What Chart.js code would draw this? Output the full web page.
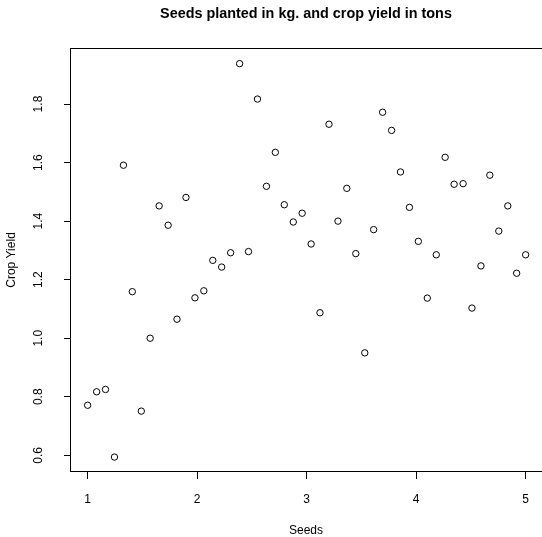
<!DOCTYPE html>
<html><head><meta charset="utf-8">
<script src="https://cdn.jsdelivr.net/npm/chart.js@4.4.1/dist/chart.umd.min.js"></script>
<style>html,body{margin:0;padding:0;background:#fff;overflow:hidden;width:542px;height:537px}canvas{display:block}</style>
</head><body>
<canvas id="c" width="542" height="537"></canvas>
<script>
const titleText = "Seeds planted in kg. and crop yield in tons";
const xLabel = "Seeds";
const yLabel = "Crop Yield";

const seeds = [1.000, 1.082, 1.163, 1.245, 1.327, 1.408, 1.490, 1.571, 1.653, 1.735,
               1.816, 1.898, 1.980, 2.061, 2.143, 2.224, 2.306, 2.388, 2.469, 2.551,
               2.633, 2.714, 2.796, 2.878, 2.959, 3.041, 3.122, 3.204, 3.286, 3.367,
               3.449, 3.531, 3.612, 3.694, 3.776, 3.857, 3.939, 4.020, 4.102, 4.184,
               4.265, 4.347, 4.429, 4.510, 4.592, 4.673, 4.755, 4.837, 4.918, 5.000];
const cropYield = [0.771, 0.817, 0.825, 0.594, 1.591, 1.159, 0.751, 1.000, 1.452, 1.386,
                   1.065, 1.481, 1.138, 1.162, 1.266, 1.243, 1.292, 1.938, 1.296, 1.817,
                   1.519, 1.635, 1.456, 1.397, 1.427, 1.322, 1.087, 1.731, 1.400, 1.512,
                   1.289, 0.950, 1.371, 1.772, 1.710, 1.568, 1.447, 1.331, 1.137, 1.285,
                   1.618, 1.526, 1.528, 1.103, 1.247, 1.557, 1.366, 1.452, 1.222, 1.285];

const xTicks = [1, 2, 3, 4, 5];
const xTickLabels = ["1", "2", "3", "4", "5"];
const yTicks = [0.6, 0.8, 1.0, 1.2, 1.4, 1.6, 1.8];
const yTickLabels = ["0.6", "0.8", "1.0", "1.2", "1.4", "1.6", "1.8"];
// visible window of the x axis (the plot box continues past the right edge of the image)
const xLimits = [0.848, 5.140];
const yLimits = [0.543, 1.9915];

const FONT = "'Liberation Sans', Arial, Helvetica, sans-serif";

const boxPlugin = {
  id: 'box',
  afterDraw(chart) {
    const a = chart.chartArea, ctx = chart.ctx;
    ctx.save();
    ctx.strokeStyle = '#000';
    ctx.lineWidth = 1;
    ctx.strokeRect(Math.round(a.left) - 0.5, Math.round(a.top) + 0.5,
                   Math.round(a.right) - Math.round(a.left) + 4, Math.round(a.bottom) - Math.round(a.top) - 1);
    ctx.restore();
  }
};

new Chart(document.getElementById('c'), {
  type: 'scatter',
  data: {
    datasets: [{
      data: seeds.map((s, i) => ({x: s, y: cropYield[i]})),
      pointStyle: 'circle',
      pointRadius: 3.2,
      pointBorderWidth: 1,
      pointBorderColor: '#000',
      pointBackgroundColor: 'rgba(0,0,0,0)',
      showLine: false
    }]
  },
  options: {
    responsive: false,
    animation: false,
    devicePixelRatio: 1,
    layout: {autoPadding: false, padding: {left: 0, right: 0, top: 0, bottom: 0}},
    plugins: {
      legend: {display: false},
      tooltip: {enabled: false},
      title: {
        display: true,
        text: titleText,
        fullSize: false,
        color: '#000',
        font: {family: FONT, size: 14.4, weight: 'bold', lineHeight: 1.2},
        padding: {top: 5.4, bottom: 25.3}
      }
    },
    scales: {
      x: {
        type: 'linear',
        min: xLimits[0], max: xLimits[1],
        afterFit(s) { s.height = 65; },
        afterBuildTicks(s) { s.ticks = xTicks.map(v => ({value: v})); },
        ticks: {
          color: '#000',
          font: {family: FONT, size: 12, lineHeight: 1.2},
          padding: 13,
          maxRotation: 0,
          autoSkip: false,
          callback: (v, i) => xTickLabels[i]
        },
        grid: {display: true, drawOnChartArea: false, drawTicks: true, tickLength: 7, color: '#000', lineWidth: 1},
        border: {display: false},
        title: {
          display: true, text: xLabel, color: '#000',
          font: {family: FONT, size: 12, lineHeight: 1},
          padding: {top: 0, bottom: 0}
        }
      },
      y: {
        type: 'linear',
        min: yLimits[0], max: yLimits[1],
        afterFit(s) { s.width = 71; },
        afterBuildTicks(s) { s.ticks = yTicks.map(v => ({value: v})); },
        ticks: {
          color: '#000',
          font: {family: FONT, size: 12, lineHeight: 1.2},
          padding: 16.6,
          minRotation: 90, maxRotation: 90,
          crossAlign: 'center',
          autoSkip: false,
          callback: (v, i) => yTickLabels[i]
        },
        grid: {display: true, drawOnChartArea: false, drawTicks: true, tickLength: 7, color: '#000', lineWidth: 1},
        border: {display: false},
        title: {
          display: true, text: yLabel, color: '#000',
          font: {family: FONT, size: 12, lineHeight: 1.2},
          padding: {top: 4.3, bottom: 0}
        }
      }
    }
  },
  plugins: [boxPlugin]
});
</script>
</body></html>
